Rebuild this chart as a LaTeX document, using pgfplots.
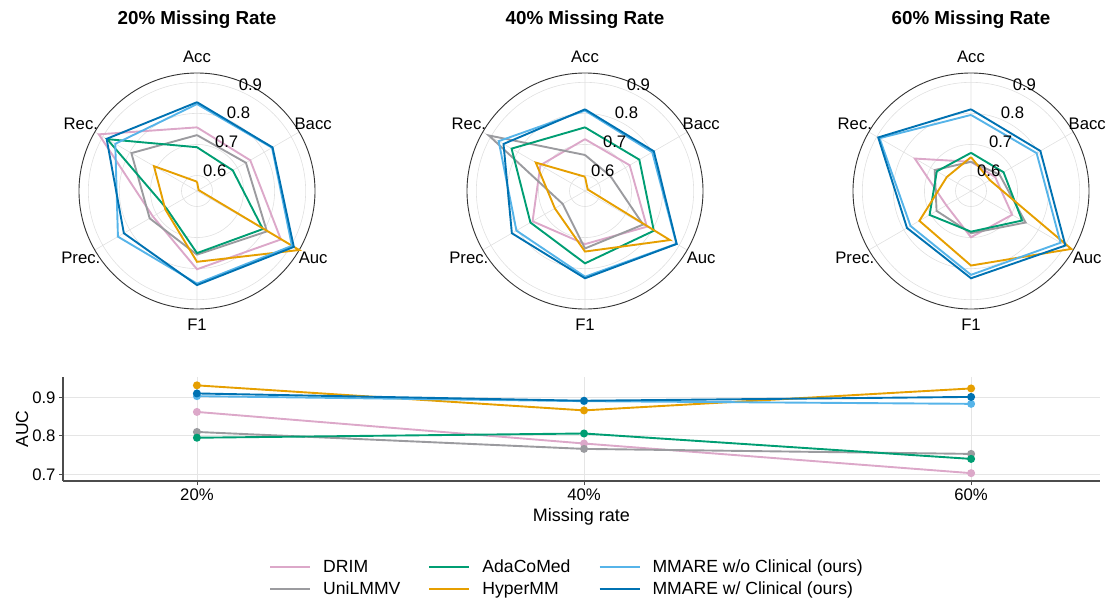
\documentclass[border=0pt]{standalone}
\usepackage{fontspec}
\setmainfont{Liberation Sans}
\usepackage{pgfplots}
\pgfplotsset{compat=1.18}
\usepgfplotslibrary{polar}
\usepackage{pgfplotstable}

\definecolor{cDRIM}{HTML}{DCA8C9}
\definecolor{cUni}{HTML}{9B9B9F}
\definecolor{cAda}{HTML}{009E73}
\definecolor{cHyper}{HTML}{E69F00}
\definecolor{cWo}{HTML}{56B4E9}
\definecolor{cW}{HTML}{0072B2}

% radar data: angle (deg), metric values
\pgfplotstableread{
ang DRIM Uni Ada Hyper Wo W
90 0.755 0.730 0.691 0.580 0.830 0.836
30 0.748 0.732 0.683 0.556 0.829 0.831
-30 0.862 0.810 0.795 0.930 0.903 0.910
-90 0.802 0.755 0.750 0.778 0.848 0.853
-150 0.714 0.726 0.663 0.668 0.844 0.822
-210 0.915 0.794 0.884 0.710 0.854 0.886
-270 0.755 0.730 0.691 0.580 0.830 0.836
}\radarA

\pgfplotstableread{
ang DRIM Uni Ada Hyper Wo W
90 0.717 0.666 0.755 0.596 0.809 0.813
30 0.716 0.645 0.752 0.560 0.800 0.806
-30 0.780 0.766 0.806 0.866 0.890 0.891
-90 0.721 0.735 0.783 0.745 0.826 0.831
-150 0.745 0.633 0.753 0.662 0.805 0.822
-210 0.716 0.908 0.823 0.733 0.871 0.853
-270 0.717 0.666 0.755 0.596 0.809 0.813
}\radarB

\pgfplotstableread{
ang DRIM Uni Ada Hyper Wo W
90 0.644 0.644 0.673 0.659 0.795 0.813
30 0.640 0.656 0.671 0.620 0.794 0.808
-30 0.703 0.753 0.740 0.923 0.883 0.901
-90 0.699 0.686 0.681 0.790 0.820 0.831
-150 0.642 0.678 0.704 0.742 0.775 0.788
-210 0.759 0.685 0.677 0.640 0.890 0.895
-270 0.644 0.644 0.673 0.659 0.795 0.813
}\radarC

% AUC vs missing rate (0 = 20%, 1 = 40%, 2 = 60%)
\pgfplotstableread{
x DRIM Uni Ada Hyper Wo W
0 0.862 0.810 0.795 0.931 0.903 0.910
1 0.780 0.766 0.806 0.866 0.890 0.891
2 0.703 0.753 0.740 0.923 0.883 0.901
}\auc

\pgfplotsset{
  radar/.style={
    scale only axis, width=236pt, height=236pt,
    anchor=center,
    ymin=0, ymax=0.38,
    xtick={30,90,150,210,270,330},
    ytick={0.05,0.15,0.25,0.35},
    xticklabels={}, yticklabels={},
    xmajorgrids, ymajorgrids,
    grid style={black!12, line width=0.6pt},
    separate axis lines,
    x axis line style={black!80, line width=0.9pt},
    y axis line style={draw=none},
    major tick length=0pt,
    clip=false,
    every axis plot/.append style={line width=1.9pt, no markers},
  },
}

\begin{document}
\begin{tikzpicture}[font=\fontsize{16.7}{20}\selectfont]
\path[use as bounding box] (0pt,0pt) rectangle (1114pt,-606pt);

% ---------- radar 1 ----------
\begin{polaraxis}[radar, at={(197pt,-191pt)}]
\addplot[cDRIM] table[x=ang, y expr=\thisrow{DRIM}-0.55] {\radarA};
\addplot[cUni] table[x=ang, y expr=\thisrow{Uni}-0.55] {\radarA};
\addplot[cAda] table[x=ang, y expr=\thisrow{Ada}-0.55] {\radarA};
\addplot[cHyper] table[x=ang, y expr=\thisrow{Hyper}-0.55] {\radarA};
\addplot[cWo] table[x=ang, y expr=\thisrow{Wo}-0.55] {\radarA};
\addplot[cW] table[x=ang, y expr=\thisrow{W}-0.55] {\radarA};
\node at (axis cs:90,0.432) {Acc};
\node at (axis cs:30,0.432) {Bacc};
\node at (axis cs:330,0.432) {Auc};
\node at (axis cs:270,0.432) {F1};
\node at (axis cs:210,0.432) {Prec.};
\node at (axis cs:150,0.432) {Rec.};
\node[anchor=south west, inner sep=0pt] at (axis cs:67.5,0.05) {0.6};
\node[anchor=south west, inner sep=0pt] at (axis cs:67.5,0.15) {0.7};
\node[anchor=south west, inner sep=0pt] at (axis cs:67.5,0.25) {0.8};
\node[anchor=south west, inner sep=0pt] at (axis cs:67.5,0.35) {0.9};
\end{polaraxis}
\node[font=\fontsize{18.8}{22}\selectfont\bfseries] at (197pt,-20pt) {20\% Missing Rate};

% ---------- radar 2 ----------
\begin{polaraxis}[radar, at={(585pt,-191pt)}]
\addplot[cDRIM] table[x=ang, y expr=\thisrow{DRIM}-0.55] {\radarB};
\addplot[cUni] table[x=ang, y expr=\thisrow{Uni}-0.55] {\radarB};
\addplot[cAda] table[x=ang, y expr=\thisrow{Ada}-0.55] {\radarB};
\addplot[cHyper] table[x=ang, y expr=\thisrow{Hyper}-0.55] {\radarB};
\addplot[cWo] table[x=ang, y expr=\thisrow{Wo}-0.55] {\radarB};
\addplot[cW] table[x=ang, y expr=\thisrow{W}-0.55] {\radarB};
\node at (axis cs:90,0.432) {Acc};
\node at (axis cs:30,0.432) {Bacc};
\node at (axis cs:330,0.432) {Auc};
\node at (axis cs:270,0.432) {F1};
\node at (axis cs:210,0.432) {Prec.};
\node at (axis cs:150,0.432) {Rec.};
\node[anchor=south west, inner sep=0pt] at (axis cs:67.5,0.05) {0.6};
\node[anchor=south west, inner sep=0pt] at (axis cs:67.5,0.15) {0.7};
\node[anchor=south west, inner sep=0pt] at (axis cs:67.5,0.25) {0.8};
\node[anchor=south west, inner sep=0pt] at (axis cs:67.5,0.35) {0.9};
\end{polaraxis}
\node[font=\fontsize{18.8}{22}\selectfont\bfseries] at (585pt,-20pt) {40\% Missing Rate};

% ---------- radar 3 ----------
\begin{polaraxis}[radar, at={(971pt,-191pt)}]
\addplot[cDRIM] table[x=ang, y expr=\thisrow{DRIM}-0.55] {\radarC};
\addplot[cUni] table[x=ang, y expr=\thisrow{Uni}-0.55] {\radarC};
\addplot[cAda] table[x=ang, y expr=\thisrow{Ada}-0.55] {\radarC};
\addplot[cHyper] table[x=ang, y expr=\thisrow{Hyper}-0.55] {\radarC};
\addplot[cWo] table[x=ang, y expr=\thisrow{Wo}-0.55] {\radarC};
\addplot[cW] table[x=ang, y expr=\thisrow{W}-0.55] {\radarC};
\node at (axis cs:90,0.432) {Acc};
\node at (axis cs:30,0.432) {Bacc};
\node at (axis cs:330,0.432) {Auc};
\node at (axis cs:270,0.432) {F1};
\node at (axis cs:210,0.432) {Prec.};
\node at (axis cs:150,0.432) {Rec.};
\node[anchor=south west, inner sep=0pt] at (axis cs:67.5,0.05) {0.6};
\node[anchor=south west, inner sep=0pt] at (axis cs:67.5,0.15) {0.7};
\node[anchor=south west, inner sep=0pt] at (axis cs:67.5,0.25) {0.8};
\node[anchor=south west, inner sep=0pt] at (axis cs:67.5,0.35) {0.9};
\end{polaraxis}
\node[font=\fontsize{18.8}{22}\selectfont\bfseries] at (971pt,-20pt) {60\% Missing Rate};

% ---------- AUC line chart ----------
\begin{axis}[
  at={(63pt,-481pt)}, anchor=south west,
  scale only axis, width=1037pt, height=104pt,
  xmin=-0.346, xmax=2.333, ymin=0.6826, ymax=0.9527,
  axis x line*=bottom, axis y line*=left,
  axis line style={black!70, line width=1.1pt, -},
  xtick={0,1,2}, xticklabels={20\%,40\%,60\%},
  ytick={0.7,0.8,0.9}, yticklabels={0.7,0.8,0.9},
  xmajorgrids, ymajorgrids,
  grid style={black!10, line width=0.8pt},
  tick align=outside, major tick length=4pt,
  tick style={black!70, line width=0.8pt},
  xlabel={Missing rate}, ylabel={AUC},
  xlabel style={at={(axis description cs:0.5,-0.346)}, anchor=center, font=\fontsize{18}{21}\selectfont},
  ylabel style={at={(axis description cs:-0.0395,0.5)}, anchor=center, font=\fontsize{17.5}{21}\selectfont},
  every axis plot/.append style={line width=1.9pt, mark=*, mark size=3pt},
  legend columns=3,
  legend style={draw=none, fill=none, at={(0.486,-0.933)}, anchor=center,
    font=\fontsize{17.6}{21}\selectfont, row sep=4pt,
    /tikz/every odd column/.append style={column sep=10pt},
    /tikz/every even column/.append style={column sep=26pt}},
  legend cell align=left,
  legend image code/.code={\draw[#1, line width=2pt] (0pt,0pt) -- (40pt,0pt);},
]
\addlegendimage{cDRIM}\addlegendentry{DRIM}
\addlegendimage{cAda}\addlegendentry{AdaCoMed}
\addlegendimage{cWo}\addlegendentry{MMARE w/o Clinical (ours)}
\addlegendimage{cUni}\addlegendentry{UniLMMV}
\addlegendimage{cHyper}\addlegendentry{HyperMM}
\addlegendimage{cW}\addlegendentry{MMARE w/ Clinical (ours)}
\addplot[cDRIM, forget plot] table[x=x, y=DRIM] {\auc};
\addplot[cUni, forget plot] table[x=x, y=Uni] {\auc};
\addplot[cAda, forget plot] table[x=x, y=Ada] {\auc};
\addplot[cHyper, forget plot] table[x=x, y=Hyper] {\auc};
\addplot[cWo, forget plot] table[x=x, y=Wo] {\auc};
\addplot[cW, forget plot] table[x=x, y=W] {\auc};
\end{axis}
\end{tikzpicture}
\end{document}
